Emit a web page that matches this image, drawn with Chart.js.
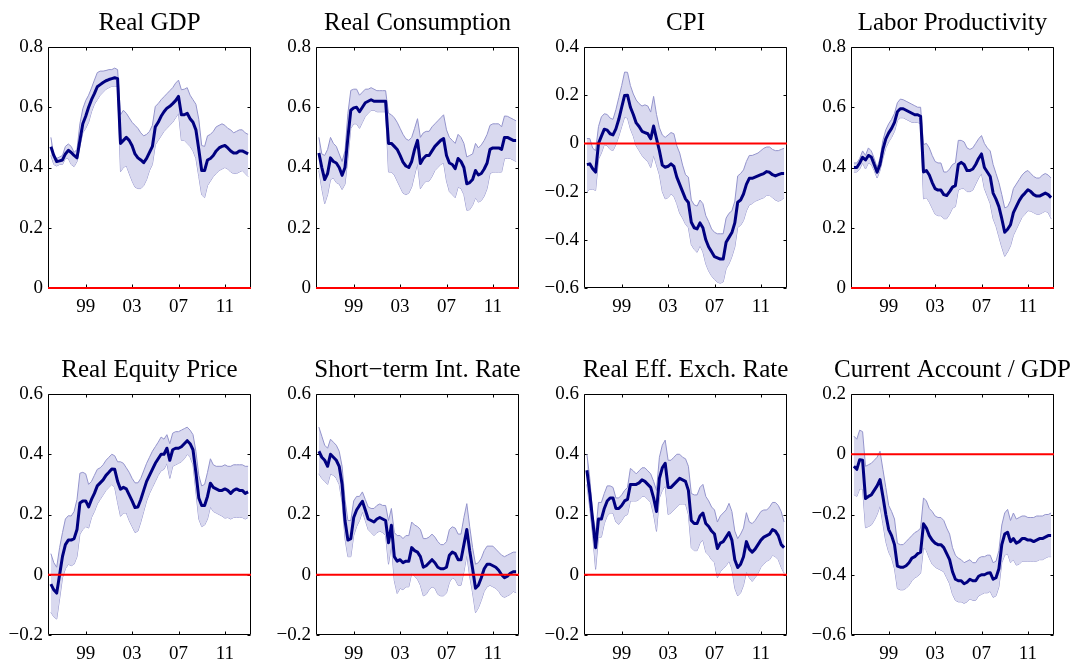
<!DOCTYPE html>
<html><head><meta charset="utf-8">
<script src="https://cdn.jsdelivr.net/npm/chart.js@4.4.0/dist/chart.umd.min.js"></script>
<style>
html,body{margin:0;padding:0;background:#fff;width:1081px;height:661px;overflow:hidden;}
canvas{position:absolute;}
</style></head><body>
<script>
// quarterly dates 1996Q1 .. 2013Q1
const dates = [];
for (let i = 0; i < 69; i++) dates.push(1996 + i * 0.25);
const xTicks = [1999, 2003, 2007, 2011];
const xTickLabels = ['99', '03', '07', '11'];

const gdpMean = [0.469,0.44,0.42,0.422, 0.425,0.445,0.457,0.45, 0.44,0.432,0.49,0.545, 0.57,0.60,0.625,0.645, 0.668,0.675,0.682,0.688, 0.692,0.695,0.698,0.695, 0.48,0.49,0.50,0.49, 0.472,0.445,0.432,0.425, 0.416,0.43,0.45,0.47, 0.535,0.55,0.57,0.585, 0.597,0.603,0.612,0.622, 0.636,0.575,0.575,0.58, 0.562,0.55,0.525,0.46, 0.39,0.39,0.425,0.43, 0.44,0.455,0.465,0.47, 0.473,0.465,0.455,0.448, 0.448,0.455,0.455,0.45, 0.445];
const gdpUpper = [0.50,0.44,0.43,0.435, 0.44,0.47,0.478,0.47, 0.45,0.46,0.545,0.595, 0.622,0.64,0.664,0.69, 0.715,0.72,0.72,0.722, 0.725,0.725,0.73,0.725, 0.575,0.59,0.58,0.565, 0.55,0.54,0.53,0.515, 0.505,0.51,0.52,0.54, 0.603,0.612,0.625,0.635, 0.645,0.655,0.665,0.68, 0.69,0.658,0.66,0.665, 0.64,0.625,0.61,0.56, 0.473,0.47,0.505,0.51, 0.52,0.535,0.54,0.545, 0.54,0.53,0.525,0.515, 0.52,0.525,0.525,0.515, 0.51];
const gdpLower = [0.44,0.41,0.405,0.41, 0.41,0.43,0.43,0.41, 0.403,0.42,0.47,0.515, 0.53,0.55,0.585,0.61, 0.625,0.64,0.65,0.66, 0.665,0.67,0.67,0.67, 0.386,0.40,0.406,0.38, 0.355,0.335,0.33,0.33, 0.34,0.36,0.39,0.41, 0.475,0.49,0.505,0.52, 0.53,0.54,0.55,0.565, 0.58,0.49,0.49,0.48, 0.47,0.455,0.43,0.37, 0.309,0.30,0.34,0.355, 0.37,0.38,0.39,0.395, 0.40,0.395,0.385,0.38, 0.38,0.385,0.39,0.38, 0.37];

const consMean = [0.448,0.40,0.36,0.38, 0.432,0.42,0.415,0.40, 0.374,0.40,0.50,0.59, 0.598,0.60,0.585,0.60, 0.615,0.62,0.625,0.62, 0.62,0.62,0.62,0.62, 0.48,0.48,0.47,0.46, 0.44,0.418,0.405,0.40, 0.42,0.46,0.49,0.413, 0.43,0.44,0.44,0.455, 0.47,0.48,0.49,0.496, 0.44,0.415,0.41,0.396, 0.43,0.42,0.40,0.346, 0.35,0.36,0.39,0.375, 0.38,0.395,0.415,0.46, 0.465,0.465,0.465,0.46, 0.50,0.50,0.495,0.49, 0.49];
const consUpper = [0.50,0.445,0.44,0.46, 0.50,0.48,0.47,0.445, 0.42,0.455,0.58,0.656, 0.66,0.66,0.64,0.65, 0.66,0.66,0.665,0.66, 0.655,0.655,0.655,0.655, 0.58,0.575,0.565,0.55, 0.53,0.51,0.495,0.49, 0.50,0.53,0.562,0.50, 0.515,0.52,0.52,0.535, 0.545,0.555,0.565,0.575, 0.525,0.50,0.49,0.48, 0.51,0.50,0.48,0.435, 0.44,0.445,0.48,0.465, 0.475,0.49,0.51,0.54, 0.545,0.545,0.545,0.535, 0.571,0.57,0.565,0.56, 0.555];
const consLower = [0.39,0.33,0.28,0.31, 0.36,0.365,0.35,0.345, 0.327,0.345,0.43,0.53, 0.545,0.545,0.53,0.55, 0.57,0.58,0.59,0.59, 0.585,0.585,0.585,0.585, 0.385,0.385,0.375,0.355, 0.335,0.315,0.31,0.315, 0.335,0.375,0.413,0.33, 0.345,0.355,0.355,0.37, 0.39,0.40,0.41,0.415, 0.355,0.32,0.31,0.30, 0.335,0.33,0.31,0.258, 0.26,0.275,0.30,0.285, 0.29,0.305,0.33,0.38, 0.385,0.385,0.385,0.385, 0.43,0.43,0.43,0.425, 0.42];

const cpiMean = [-0.088,-0.085,-0.105,-0.119, 0.0,0.03,0.059,0.055, 0.04,0.035,0.06,0.10, 0.15,0.199,0.20,0.15, 0.12,0.085,0.07,0.05, 0.045,0.04,0.019,0.072, 0.02,-0.03,-0.09,-0.099, -0.095,-0.085,-0.095,-0.14, -0.17,-0.20,-0.23,-0.245, -0.327,-0.35,-0.355,-0.33, -0.35,-0.40,-0.43,-0.45, -0.47,-0.475,-0.48,-0.48, -0.41,-0.39,-0.37,-0.33, -0.244,-0.235,-0.21,-0.17, -0.145,-0.145,-0.14,-0.135, -0.13,-0.125,-0.117,-0.12, -0.13,-0.135,-0.13,-0.125, -0.125];
const cpiUpper = [0.02,0.02,-0.02,-0.03, 0.07,0.11,0.123,0.12, 0.105,0.10,0.14,0.19, 0.24,0.296,0.295,0.24, 0.205,0.18,0.165,0.155, 0.16,0.155,0.13,0.195, 0.12,0.065,0.035,0.025, 0.035,0.045,0.04,-0.01, -0.04,-0.09,-0.13,-0.14, -0.235,-0.255,-0.26,-0.235, -0.25,-0.30,-0.325,-0.355, -0.369,-0.375,-0.375,-0.375, -0.31,-0.29,-0.28,-0.24, -0.135,-0.125,-0.11,-0.075, -0.05,-0.05,-0.045,-0.04, -0.03,-0.02,-0.015,-0.015, -0.025,-0.03,-0.03,-0.025, -0.02];
const cpiLower = [-0.202,-0.19,-0.19,-0.195, -0.065,-0.04,-0.005,-0.01, -0.025,-0.03,-0.005,0.03, 0.07,0.109,0.105,0.06, 0.03,-0.01,-0.03,-0.05, -0.065,-0.075,-0.10,-0.05, -0.09,-0.13,-0.20,-0.23, -0.225,-0.21,-0.22,-0.25, -0.29,-0.31,-0.335,-0.35, -0.42,-0.44,-0.452,-0.425, -0.45,-0.50,-0.53,-0.55, -0.565,-0.576,-0.58,-0.575, -0.52,-0.50,-0.47,-0.43, -0.348,-0.34,-0.32,-0.28, -0.255,-0.25,-0.24,-0.235, -0.23,-0.225,-0.215,-0.215, -0.225,-0.235,-0.24,-0.235, -0.225];

const lpMean = [0.40,0.40,0.415,0.434, 0.425,0.44,0.435,0.41, 0.384,0.41,0.46,0.495, 0.515,0.53,0.55,0.585, 0.595,0.595,0.59,0.585, 0.58,0.575,0.575,0.57, 0.385,0.39,0.375,0.35, 0.33,0.325,0.325,0.31, 0.307,0.32,0.335,0.34, 0.41,0.417,0.41,0.39, 0.39,0.395,0.41,0.43, 0.445,0.40,0.385,0.37, 0.315,0.295,0.27,0.23, 0.185,0.195,0.21,0.25, 0.27,0.29,0.305,0.315, 0.326,0.32,0.31,0.305, 0.305,0.31,0.315,0.31, 0.30];
const lpUpper = [0.415,0.415,0.43,0.455, 0.44,0.465,0.455,0.43, 0.40,0.43,0.49,0.525, 0.545,0.56,0.58,0.615, 0.627,0.625,0.62,0.615, 0.61,0.605,0.60,0.60, 0.476,0.48,0.465,0.44, 0.42,0.415,0.415,0.385, 0.385,0.395,0.41,0.415, 0.49,0.49,0.485,0.465, 0.46,0.465,0.48,0.495, 0.506,0.48,0.465,0.455, 0.41,0.38,0.35,0.31, 0.266,0.27,0.29,0.33, 0.345,0.36,0.375,0.385, 0.39,0.38,0.37,0.365, 0.365,0.375,0.38,0.375, 0.365];
const lpLower = [0.385,0.385,0.395,0.415, 0.395,0.415,0.41,0.39, 0.365,0.39,0.43,0.465, 0.485,0.50,0.52,0.555, 0.565,0.565,0.56,0.555, 0.55,0.55,0.55,0.545, 0.296,0.30,0.285,0.265, 0.245,0.24,0.24,0.23, 0.23,0.245,0.265,0.27, 0.325,0.33,0.33,0.32, 0.32,0.325,0.345,0.365, 0.38,0.33,0.305,0.28, 0.23,0.205,0.17,0.135, 0.105,0.12,0.14,0.175, 0.195,0.215,0.235,0.245, 0.257,0.255,0.25,0.245, 0.245,0.25,0.255,0.25, 0.23];

const eqMean = [-0.031,-0.05,-0.061,0.0, 0.061,0.10,0.115,0.115, 0.12,0.15,0.238,0.245, 0.245,0.225,0.25,0.27, 0.295,0.305,0.315,0.33, 0.34,0.351,0.35,0.31, 0.284,0.29,0.285,0.265, 0.245,0.223,0.225,0.25, 0.28,0.31,0.33,0.35, 0.37,0.385,0.40,0.40, 0.42,0.38,0.415,0.42, 0.42,0.425,0.435,0.445, 0.435,0.415,0.34,0.255, 0.23,0.23,0.26,0.304, 0.29,0.285,0.28,0.28, 0.285,0.28,0.27,0.28, 0.285,0.28,0.28,0.27, 0.275];
const eqUpper = [0.07,0.04,0.025,0.09, 0.14,0.185,0.196,0.195, 0.21,0.25,0.337,0.34, 0.335,0.30,0.31,0.33, 0.35,0.355,0.365,0.38, 0.39,0.40,0.395,0.375, 0.375,0.37,0.355,0.34, 0.32,0.305,0.305,0.32, 0.345,0.37,0.39,0.41, 0.425,0.44,0.457,0.45, 0.465,0.435,0.47,0.475, 0.475,0.48,0.485,0.49, 0.48,0.465,0.41,0.33, 0.295,0.30,0.34,0.385, 0.365,0.36,0.36,0.36, 0.365,0.36,0.36,0.365, 0.365,0.365,0.365,0.36, 0.36];
const eqLower = [-0.124,-0.14,-0.147,-0.08, -0.01,0.02,0.035,0.03, 0.035,0.06,0.135,0.15, 0.16,0.155,0.19,0.21, 0.235,0.25,0.265,0.28, 0.29,0.30,0.29,0.24, 0.194,0.205,0.205,0.18, 0.16,0.14,0.145,0.175, 0.21,0.245,0.27,0.29, 0.31,0.33,0.345,0.35, 0.37,0.32,0.36,0.365, 0.37,0.375,0.385,0.40, 0.39,0.365,0.275,0.185, 0.16,0.165,0.185,0.225, 0.21,0.205,0.20,0.195, 0.188,0.19,0.185,0.19, 0.19,0.19,0.19,0.185, 0.19];

const stirMean = [0.41,0.39,0.38,0.36, 0.40,0.39,0.38,0.36, 0.30,0.18,0.115,0.12, 0.19,0.215,0.23,0.244, 0.215,0.185,0.18,0.175, 0.185,0.19,0.185,0.18, 0.106,0.164,0.06,0.045, 0.05,0.04,0.045,0.045, 0.09,0.08,0.075,0.06, 0.025,0.03,0.04,0.05, 0.04,0.025,0.02,0.02, 0.025,0.065,0.075,0.07, 0.05,0.05,0.10,0.15, 0.08,0.02,-0.045,-0.035, -0.01,0.02,0.035,0.035, 0.03,0.025,0.015,0.0, -0.01,-0.005,0.005,0.01, 0.01];
const stirUpper = [0.49,0.46,0.43,0.42, 0.45,0.44,0.43,0.41, 0.36,0.25,0.18,0.18, 0.245,0.26,0.26,0.275, 0.25,0.225,0.22,0.22, 0.23,0.235,0.23,0.23, 0.18,0.22,0.14,0.13, 0.13,0.12,0.13,0.13, 0.175,0.165,0.16,0.15, 0.12,0.12,0.125,0.135, 0.125,0.11,0.10,0.10, 0.11,0.15,0.159,0.155, 0.135,0.135,0.19,0.236, 0.16,0.09,0.035,0.04, 0.055,0.08,0.095,0.095, 0.095,0.085,0.075,0.065, 0.06,0.065,0.07,0.075, 0.075];
const stirLower = [0.335,0.32,0.31,0.30, 0.335,0.33,0.32,0.30, 0.24,0.12,0.06,0.06, 0.13,0.16,0.18,0.209, 0.18,0.15,0.14,0.13, 0.14,0.145,0.14,0.13, 0.035,0.10,-0.02,-0.062, -0.045,-0.05,-0.04,-0.04, 0.005,-0.005,-0.015,-0.035, -0.07,-0.065,-0.05,-0.04, -0.045,-0.065,-0.07,-0.07, -0.06,-0.025,-0.01,-0.015, -0.035,-0.035,0.01,0.065, -0.005,-0.06,-0.126,-0.11, -0.085,-0.055,-0.04,-0.035, -0.04,-0.045,-0.055,-0.07, -0.075,-0.07,-0.065,-0.055, -0.06];

const reerMean = [0.347,0.27,0.18,0.09, 0.185,0.185,0.22,0.245, 0.255,0.255,0.22,0.22, 0.23,0.245,0.25,0.30, 0.30,0.30,0.305,0.315, 0.31,0.30,0.29,0.255, 0.21,0.32,0.355,0.37, 0.29,0.29,0.30,0.31, 0.32,0.315,0.31,0.28, 0.18,0.17,0.17,0.195, 0.205,0.17,0.16,0.145, 0.135,0.087,0.105,0.11, 0.125,0.14,0.115,0.05, 0.024,0.035,0.06,0.11, 0.085,0.075,0.085,0.10, 0.115,0.125,0.13,0.135, 0.15,0.145,0.13,0.10, 0.09];
const reerUpper = [0.40,0.32,0.20,0.14, 0.24,0.24,0.27,0.295, 0.295,0.29,0.255,0.255, 0.265,0.28,0.29,0.353, 0.345,0.335,0.345,0.355, 0.355,0.345,0.335,0.31, 0.28,0.39,0.43,0.447, 0.38,0.38,0.39,0.40, 0.40,0.39,0.385,0.36, 0.27,0.265,0.265,0.29, 0.30,0.26,0.245,0.225, 0.215,0.175,0.195,0.205, 0.215,0.237,0.21,0.145, 0.12,0.135,0.155,0.206, 0.175,0.17,0.18,0.195, 0.21,0.215,0.215,0.225, 0.24,0.24,0.23,0.21, 0.175];
const reerLower = [0.30,0.22,0.13,0.018, 0.125,0.125,0.17,0.195, 0.205,0.205,0.175,0.167, 0.18,0.195,0.20,0.245, 0.245,0.245,0.25,0.26, 0.26,0.25,0.24,0.20, 0.144,0.255,0.28,0.295, 0.20,0.205,0.215,0.225, 0.235,0.235,0.235,0.20, 0.09,0.08,0.08,0.105, 0.115,0.075,0.065,0.05, 0.04,-0.01,0.01,0.02, 0.03,0.045,0.02,-0.045, -0.07,-0.06,-0.035,0.01, -0.01,-0.022,-0.01,0.005, 0.025,0.035,0.045,0.05, 0.065,0.06,0.05,0.025, 0.005];

const caMean = [-0.04,-0.05,-0.018,-0.02, -0.147,-0.14,-0.135,-0.12, -0.105,-0.084,-0.14,-0.20, -0.25,-0.27,-0.30,-0.371, -0.375,-0.375,-0.37,-0.36, -0.345,-0.34,-0.33,-0.325, -0.231,-0.245,-0.27,-0.285, -0.295,-0.30,-0.30,-0.31, -0.33,-0.35,-0.39,-0.415, -0.42,-0.42,-0.43,-0.425, -0.415,-0.42,-0.42,-0.405, -0.40,-0.40,-0.395,-0.393, -0.415,-0.41,-0.38,-0.30, -0.265,-0.259,-0.29,-0.28, -0.295,-0.29,-0.28,-0.28, -0.285,-0.285,-0.29,-0.285, -0.28,-0.28,-0.275,-0.27, -0.27];
const caUpper = [0.06,0.05,0.08,0.075, -0.04,-0.035,-0.03,-0.02, -0.01,0.01,-0.05,-0.11, -0.17,-0.19,-0.215,-0.296, -0.30,-0.30,-0.29,-0.28, -0.27,-0.26,-0.255,-0.245, -0.145,-0.155,-0.18,-0.19, -0.205,-0.21,-0.21,-0.22, -0.245,-0.265,-0.31,-0.335, -0.345,-0.35,-0.36,-0.355, -0.35,-0.36,-0.36,-0.345, -0.34,-0.34,-0.335,-0.335, -0.36,-0.355,-0.32,-0.235, -0.195,-0.183,-0.22,-0.195, -0.215,-0.21,-0.205,-0.205, -0.21,-0.21,-0.21,-0.205, -0.205,-0.205,-0.20,-0.20, -0.195];
const caLower = [-0.134,-0.14,-0.115,-0.115, -0.244,-0.24,-0.235,-0.22, -0.20,-0.172,-0.23,-0.29, -0.325,-0.345,-0.38,-0.446, -0.45,-0.45,-0.445,-0.435, -0.42,-0.41,-0.405,-0.395, -0.31,-0.32,-0.345,-0.365, -0.375,-0.38,-0.385,-0.39, -0.41,-0.43,-0.465,-0.485, -0.49,-0.49,-0.495,-0.49, -0.48,-0.485,-0.485,-0.47, -0.465,-0.46,-0.46,-0.455, -0.475,-0.47,-0.44,-0.36, -0.335,-0.33,-0.36,-0.35, -0.368,-0.365,-0.355,-0.355, -0.355,-0.355,-0.355,-0.355, -0.35,-0.35,-0.345,-0.34, -0.34];

const titles = ['Real GDP', 'Real Consumption', 'CPI', 'Labor Productivity',
                'Real Equity Price', 'Short\u2212term Int. Rate', 'Real Eff. Exch. Rate', 'Current Account / GDP'];
const yRanges = [[0, 0.8], [0, 0.8], [-0.6, 0.4], [0, 0.8], [-0.2, 0.6], [-0.2, 0.6], [-0.2, 0.6], [-0.6, 0.2]];
const series = [
  [gdpMean, gdpUpper, gdpLower], [consMean, consUpper, consLower],
  [cpiMean, cpiUpper, cpiLower], [lpMean, lpUpper, lpLower],
  [eqMean, eqUpper, eqLower], [stirMean, stirUpper, stirLower],
  [reerMean, reerUpper, reerLower], [caMean, caUpper, caLower]
];

const X_MIN = 1995.75, X_MAX = 2013.25;
const plotLefts = [48, 316, 584, 851];
const plotTops = [47, 394];
const PLOT_W = 203;
const YW = 46, XH = 30, PAD_R = 28, TOP_H = 39;
const FAMILY = "'Liberation Serif', 'Times New Roman', serif";

Chart.defaults.font.family = FAMILY;
Chart.defaults.color = '#000';

const boxPlugin = {
  id: 'boxTicks',
  beforeDatasetsDraw(chart) {
    const {ctx, chartArea: a, scales} = chart;
    const L = Math.round(a.left) + 0.5, R = Math.round(a.right) - 0.5;
    const T = Math.round(a.top) + 0.5, B = Math.round(a.bottom) - 0.5;
    ctx.save();
    ctx.strokeStyle = '#000';
    ctx.lineWidth = 1;
    ctx.beginPath();
    ctx.rect(L, T, R - L, B - T);
    const tl = 3;
    scales.y.ticks.forEach(t => {
      const py = Math.round(scales.y.getPixelForValue(t.value)) + 0.5;
      ctx.moveTo(L, py); ctx.lineTo(L + tl, py);
      ctx.moveTo(R, py); ctx.lineTo(R - tl, py);
    });
    scales.x.ticks.forEach(t => {
      const px = Math.round(scales.x.getPixelForValue(t.value)) + 0.5;
      ctx.moveTo(px, B); ctx.lineTo(px, B - tl);
      ctx.moveTo(px, T); ctx.lineTo(px, T + tl);
    });
    ctx.stroke();
    ctx.restore();
  },
  afterDraw(chart, args, opts) {
    const {ctx, chartArea: a} = chart;
    ctx.save();
    ctx.fillStyle = '#000';
    ctx.font = '25px ' + FAMILY;
    ctx.textAlign = 'center';
    ctx.textBaseline = 'alphabetic';
    ctx.fillText(opts.text, (a.left + a.right) / 2, a.top - 17);
    ctx.restore();
  }
};

function pts(arr) { return arr.map((v, i) => ({x: dates[i], y: v})); }

function fmtY(v) {
  const r = Math.round(v * 10) / 10;
  if (r === 0) return '0';
  return (r < 0 ? '\u2212' : '') + Math.abs(r).toFixed(1);
}

for (let k = 0; k < 8; k++) {
  const col = k % 4, row = Math.floor(k / 4);
  const cv = document.createElement('canvas');
  const w = YW + PLOT_W + PAD_R;
  const h = TOP_H + 241 + XH;
  cv.width = w; cv.height = h;
  cv.style.width = w + 'px'; cv.style.height = h + 'px';
  cv.style.left = (plotLefts[col] - YW) + 'px';
  cv.style.top = (plotTops[row] - TOP_H) + 'px';
  document.body.appendChild(cv);
  const [mean, upper, lower] = series[k];
  const [yMin, yMax] = yRanges[k];
  new Chart(cv, {
    type: 'line',
    data: {
      datasets: [
        {data: [{x: X_MIN, y: 0}, {x: X_MAX, y: 0}], borderColor: '#ff0000', borderWidth: 2, pointRadius: 0, fill: false, clip: false, order: 0},
        {data: pts(mean), borderColor: '#000080', borderWidth: 3, pointRadius: 0, fill: false, tension: 0, borderJoinStyle: 'round', order: 1},
        {data: pts(upper), borderColor: '#9494cc', borderWidth: 1, pointRadius: 0, backgroundColor: '#d9d9ef', fill: '+1', tension: 0, order: 2},
        {data: pts(lower), borderColor: '#9494cc', borderWidth: 1, pointRadius: 0, fill: false, tension: 0, order: 3}
      ]
    },
    options: {
      responsive: false, animation: false, devicePixelRatio: 1,
      layout: {padding: {left: 0, right: PAD_R, top: TOP_H, bottom: 0}},
      plugins: {
        legend: {display: false}, tooltip: {enabled: false}, title: {display: false},
        boxTicks: {text: titles[k]}
      },
      scales: {
        x: {
          type: 'linear', min: X_MIN, max: X_MAX,
          grid: {display: false, drawTicks: false}, border: {display: false},
          ticks: {font: {size: 19}, color: '#000', padding: 8, maxRotation: 0, autoSkip: false,
                  callback: v => { const i = xTicks.indexOf(v); return i >= 0 ? xTickLabels[i] : ''; }},
          afterBuildTicks: s => { s.ticks = xTicks.map(v => ({value: v})); },
          afterFit: s => { s.height = XH; }
        },
        y: {
          min: yMin, max: yMax,
          grid: {display: false, drawTicks: false}, border: {display: false},
          ticks: {stepSize: 0.2, font: {size: 19}, color: '#000', padding: 5, callback: fmtY},
          afterFit: s => { s.width = YW; }
        }
      }
    },
    plugins: [boxPlugin]
  });
}
</script>
</body></html>
